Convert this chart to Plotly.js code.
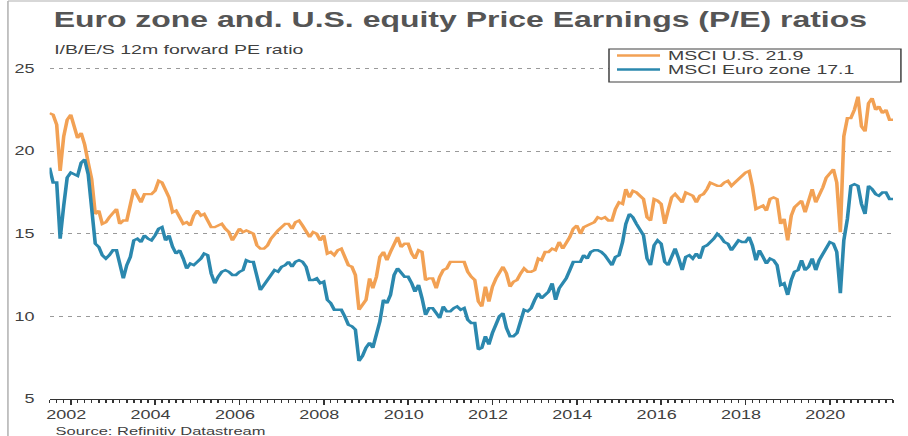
<!DOCTYPE html>
<html>
<head>
<meta charset="utf-8">
<script src="https://cdn.plot.ly/plotly-3.0.1.min.js"></script>
<style>
  html, body { margin: 0; padding: 0; background: #ffffff; overflow: hidden; }
  #wrap { width: 605px; height: 436px; transform: scaleX(1.50083); transform-origin: 0 0; }
</style>
</head>
<body>
<div id="wrap"><div id="chart"></div></div>
<script>
// Monthly series, first month July 2001
const startYear = 2001;
const startMonth = 7;

const usPE = [
  22.3, 22.2, 21.6, 18.8, 20.9, 21.9, 22.2, 21.4, 20.8, 21.1,
  20.4, 19.3, 18.3, 16.2, 16.4, 15.6, 15.7, 16.0, 16.3, 16.5,
  15.6, 15.8, 15.8, 16.8, 17.7, 17.3, 16.9, 17.4, 17.4, 17.4,
  17.6, 18.2, 18.1, 17.6, 17.2, 16.3, 16.4, 16.0, 15.6, 15.7,
  15.5, 16.1, 16.4, 16.1, 16.2, 15.8, 15.4, 15.4, 15.5, 15.6,
  15.3, 15.1, 14.6, 14.9, 15.3, 15.1, 15.2, 15.1, 15.0, 14.3,
  14.1, 14.1, 14.3, 14.7, 15.0, 15.2, 15.4, 15.6, 15.6, 15.3,
  15.7, 15.8, 15.5, 15.2, 14.8, 15.1, 15.0, 14.6, 14.9, 13.8,
  13.9, 13.7, 14.0, 14.1, 13.6, 13.1, 13.0, 12.5, 10.4, 10.7,
  11.0, 12.3, 11.7, 12.4, 13.6, 13.9, 13.4, 13.9, 14.3, 14.8,
  14.2, 14.4, 14.4, 13.8, 13.5, 14.0, 13.9, 12.2, 12.3, 12.3,
  11.7, 12.4, 12.8, 12.9, 13.3, 13.3, 13.3, 13.3, 13.3, 12.7,
  12.4, 12.2, 10.9, 10.6, 11.8, 10.9, 11.8, 12.3, 12.7, 13.0,
  12.6, 11.8, 12.1, 12.2, 12.6, 12.9, 12.7, 12.7, 12.8, 13.5,
  13.4, 13.9, 13.9, 14.1, 14.0, 14.5, 14.1, 14.4, 14.8, 15.3,
  15.5, 15.0, 15.4, 15.5, 15.6, 15.7, 16.0, 15.9, 16.0, 15.8,
  15.8, 16.5, 16.9, 16.8, 17.7, 17.2, 17.6, 17.5, 17.3, 17.1,
  16.0, 15.8, 17.1, 17.0, 16.8, 15.6, 16.4, 17.2, 17.4, 17.1,
  16.9, 17.5, 17.4, 17.3, 16.9, 17.3, 17.4, 17.7, 18.1, 18.0,
  17.9, 17.9, 18.1, 18.2, 17.9, 18.1, 18.3, 18.5, 18.7, 18.8,
  17.9, 16.5, 16.6, 16.7, 16.4, 17.1, 17.2, 17.1, 15.6, 15.9,
  14.6, 16.1, 16.6, 16.8, 17.0, 16.3, 17.1, 17.7, 16.9, 17.3,
  17.8, 18.4, 18.7, 18.9, 18.1, 15.1, 20.9, 22.0, 22.0, 22.5,
  23.3, 21.5, 21.2, 22.9, 23.2, 22.5, 22.7, 22.3, 22.5, 21.9,
  21.9
];

const euroPE = [
  19.0, 18.1, 18.1, 14.7, 16.7, 18.4, 18.7, 18.6, 18.5, 19.3,
  19.5, 18.6, 16.8, 14.4, 14.2, 13.7, 13.5, 13.7, 14.0, 14.0,
  13.2, 12.3, 13.1, 13.6, 14.6, 14.7, 14.5, 14.9, 14.7, 14.6,
  14.9, 15.3, 15.4, 14.6, 14.9, 14.2, 13.8, 14.0, 13.5, 12.9,
  13.2, 13.1, 13.3, 13.5, 13.8, 13.7, 12.6, 12.0, 12.4, 12.7,
  12.8, 12.7, 12.5, 12.5, 12.7, 12.8, 13.4, 13.3, 13.3, 12.3,
  11.6, 11.9, 12.2, 12.4, 12.8, 12.7, 13.0, 13.1, 13.3, 13.0,
  13.3, 13.4, 13.3, 13.0, 12.2, 12.2, 12.3, 12.0, 12.1, 11.0,
  10.8, 10.4, 10.4, 10.4, 10.0, 9.5, 9.4, 9.2, 7.3, 7.6,
  8.1, 8.4, 8.1, 8.9, 9.7, 11.0, 10.8, 11.3, 12.5, 12.9,
  12.6, 12.4, 12.4, 12.0, 11.5, 11.9, 11.1, 10.1, 10.5, 10.5,
  10.2, 9.9, 10.6, 10.3, 10.3, 10.5, 10.6, 10.4, 10.5, 9.8,
  9.6, 9.6, 8.0, 8.1, 8.8, 8.3, 9.0, 9.5, 10.0, 10.2,
  9.3, 8.8, 8.8, 9.0, 9.7, 10.4, 10.3, 10.5, 11.0, 11.4,
  11.1, 11.3, 11.5, 12.0, 11.0, 11.7, 12.0, 12.3, 12.8, 13.3,
  13.3, 13.3, 13.7, 13.5, 13.9, 14.0, 14.0, 13.9, 13.7, 13.4,
  13.1, 13.6, 13.7, 14.5, 15.6, 16.2, 16.0, 15.6, 15.3, 14.9,
  13.5, 13.1, 14.3, 14.6, 14.4, 13.3, 13.1, 13.6, 14.1, 13.5,
  12.8, 13.6, 13.7, 13.5, 13.8, 13.5, 14.2, 14.3, 14.5, 14.7,
  15.0, 14.8, 14.5, 14.4, 14.0, 14.3, 14.6, 14.5, 14.5, 14.8,
  14.3, 13.4, 14.0, 13.6, 13.2, 13.5, 13.4, 13.1, 11.9, 12.0,
  11.3, 12.2, 12.7, 12.8, 13.4, 12.8, 13.0, 13.5, 12.8, 13.4,
  13.8, 14.2, 14.5, 14.4, 13.9, 11.4, 14.6, 15.9, 17.9, 18.0,
  17.9, 16.8, 16.2, 17.9, 17.7, 17.4, 17.3, 17.5, 17.5, 17.1,
  17.1
];

const seriesNames = ['MSCI U.S. 21.9', 'MSCI Euro zone 17.1'];
const seriesColors = ['#F2A154', '#2B88AE'];
const yTickVals = [5, 10, 15, 20, 25];
const yTickText = ['5', '10', '15', '20', '25'];
const xRange = ['2001-07-01', '2021-07-01'];

const titleText = 'Euro zone and. U.S. equity Price Earnings (P/E) ratios';
const subtitleText = 'I/B/E/S 12m forward PE ratio';
const sourceText = 'Source: Refinitiv Datastream';

function monthDates(n) {
  const out = [];
  for (let k = 0; k < n; k++) {
    const m0 = startMonth - 1 + k;
    const y = startYear + Math.floor(m0 / 12);
    const m = (m0 % 12) + 1;
    out.push(y + '-' + String(m).padStart(2, '0') + '-01');
  }
  return out;
}
const dates = monthDates(usPE.length);

const FONT = 'Liberation Sans, Arial, Helvetica, sans-serif';

const traces = [
  { x: dates, y: usPE, name: seriesNames[0], type: 'scatter', mode: 'lines',
    line: { color: seriesColors[0], width: 2.4 } },
  { x: dates, y: euroPE, name: seriesNames[1], type: 'scatter', mode: 'lines',
    line: { color: seriesColors[1], width: 2.4 } }
];

// legend box drawn in paper coordinates
const lgX0 = 0.6633, lgX1 = 1.0094, lgY0 = 0.9135, lgY1 = 1.0086;
const lgLineX0 = 0.6728, lgLineX1 = 0.7238, lgTextX = 0.7300;
const lgRowY = [0.9899, 0.9496];

const shapes = [
  { type: 'line', xref: 'paper', yref: 'paper', x0: -0.0493, x1: -0.0493, y0: -0.11, y1: 1.147,
    line: { color: '#b0b0b0', width: 1 } },
  { type: 'line', xref: 'paper', yref: 'paper', x0: -0.0493, x1: 1.02, y0: 1.147, y1: 1.147,
    line: { color: '#b0b0b0', width: 1 } },
  { type: 'rect', xref: 'paper', yref: 'paper', x0: lgX0, x1: lgX1, y0: lgY0, y1: lgY1,
    fillcolor: '#ffffff', line: { color: '#404040', width: 1 } }
];
const annotations = [
  { text: subtitleText, xref: 'paper', yref: 'paper', x: 0.002, y: 1.006,
    xanchor: 'left', yanchor: 'middle', showarrow: false,
    font: { family: FONT, size: 13, color: '#404040' } },
  { text: sourceText, xref: 'paper', yref: 'paper', x: 0.003, y: -0.092,
    xanchor: 'left', yanchor: 'middle', showarrow: false,
    font: { family: FONT, size: 11, color: '#404040' } }
];
seriesNames.forEach(function (nm, k) {
  shapes.push({ type: 'line', xref: 'paper', yref: 'paper',
    x0: lgLineX0, x1: lgLineX1, y0: lgRowY[k], y1: lgRowY[k],
    line: { color: seriesColors[k], width: 2.6 } });
  annotations.push({ text: nm, xref: 'paper', yref: 'paper', x: lgTextX, y: lgRowY[k],
    xanchor: 'left', yanchor: 'middle', showarrow: false,
    font: { family: FONT, size: 13, color: '#404040' } });
});

const layout = {
  width: 605, height: 436,
  margin: { l: 33, r: 10, t: 52, b: 37, pad: 0 },
  paper_bgcolor: '#ffffff', plot_bgcolor: '#ffffff',
  font: { family: FONT, size: 12, color: '#404040' },
  title: {
    text: '<b>' + titleText + '</b>',
    xref: 'container', yref: 'container',
    x: 0.507, xanchor: 'center', y: 0.956, yanchor: 'middle',
    font: { family: FONT, size: 21.3, color: '#555555' }
  },
  showlegend: false,
  xaxis: {
    type: 'date', range: xRange, autorange: false,
    showgrid: false, zeroline: false,
    showline: true, linecolor: '#333333', linewidth: 1,
    ticks: 'outside', ticklen: 5, tickcolor: '#333333', tickwidth: 1,
    dtick: 'M24', tick0: '2002-01-01', tickformat: '%Y',
    ticklabelshift: -3,
    tickfont: { family: FONT, size: 12, color: '#404040' },
    minor: { dtick: 'M2', tick0: '2001-07-01', ticks: 'outside', ticklen: 3, tickcolor: '#333333', showgrid: false }
  },
  yaxis: {
    range: [5, 26], autorange: false,
    tickvals: yTickVals, ticktext: yTickText,
    showgrid: true, gridcolor: '#9a9a9a', gridwidth: 1, griddash: 'dot',
    zeroline: false, showline: false, ticks: '',
    ticklabelstandoff: 9,
    tickfont: { family: FONT, size: 12, color: '#404040' }
  },
  annotations: annotations,
  shapes: shapes
};

Plotly.newPlot('chart', traces, layout, { staticPlot: true, displayModeBar: false });
</script>
</body>
</html>
